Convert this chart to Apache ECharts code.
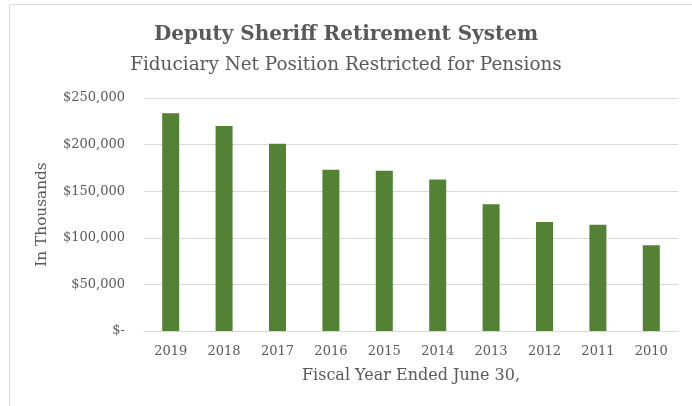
<!DOCTYPE html>
<html>
<head>
<meta charset="utf-8">
<script src="https://cdn.jsdelivr.net/npm/echarts@6/dist/echarts.min.js"></script>
<style>
  html, body { margin: 0; padding: 0; background: #fff; }
  #main { width: 692px; height: 406px; }
</style>
</head>
<body>
<div id="main"></div>
<script>
// 数据
var years = ['2019', '2018', '2017', '2016', '2015', '2014', '2013', '2012', '2011', '2010'];
var netPosition = [233600, 220000, 201000, 173000, 172000, 162500, 136000, 117000, 114000, 92000];
var yTicks = [0, 50000, 100000, 150000, 200000, 250000];

var textColor = '#595959';
var serif = '"DejaVu Serif", "Liberation Serif", serif';

var myChart = echarts.init(document.getElementById('main'));

var option = {
  animation: false,
  textStyle: { fontFamily: serif, color: textColor },
  graphic: [
    {
      type: 'rect',
      shape: { x: 9.5, y: 4.5, width: 800, height: 500 },
      style: { fill: 'none', stroke: '#d9d9d9', lineWidth: 1 }
    }
  ],
  title: [
    {
      text: 'Deputy Sheriff Retirement System',
      left: 'center',
      top: 20,
      textStyle: { fontFamily: serif, fontSize: 20, fontWeight: 'bold', color: textColor }
    },
    {
      text: 'Fiduciary Net Position Restricted for Pensions',
      left: 'center',
      top: 51,
      textStyle: { fontFamily: serif, fontSize: 18.4, fontWeight: 'normal', color: textColor }
    }
  ],
  grid: { left: 144, right: 14, top: 98, bottom: 75 },
  xAxis: {
    type: 'category',
    data: years,
    name: 'Fiscal Year Ended June 30,',
    nameLocation: 'middle',
    nameGap: 37,
    nameTextStyle: { fontFamily: serif, fontSize: 16, color: textColor },
    axisLine: { lineStyle: { color: '#d9d9d9', width: 1 } },
    axisTick: { show: false },
    axisLabel: { fontFamily: serif, fontSize: 13, color: textColor, margin: 14 }
  },
  yAxis: {
    type: 'value',
    min: yTicks[0],
    max: yTicks[yTicks.length - 1],
    interval: 50000,
    name: 'In Thousands',
    nameLocation: 'middle',
    nameGap: 94,
    nameRotate: 90,
    nameTextStyle: { fontFamily: serif, fontSize: 15.3, color: textColor },
    axisLine: { show: false },
    axisTick: { show: false },
    splitLine: { lineStyle: { color: '#d9d9d9', width: 1 } },
    axisLabel: {
      fontFamily: serif,
      fontSize: 13,
      color: textColor,
      margin: 19,
      formatter: function (v) {
        return v === 0 ? '$-' : '$' + v.toLocaleString('en-US');
      }
    }
  },
  series: [
    {
      type: 'bar',
      data: netPosition,
      barWidth: 17,
      itemStyle: { color: '#548235' }
    }
  ]
};

myChart.setOption(option);
</script>
</body>
</html>
